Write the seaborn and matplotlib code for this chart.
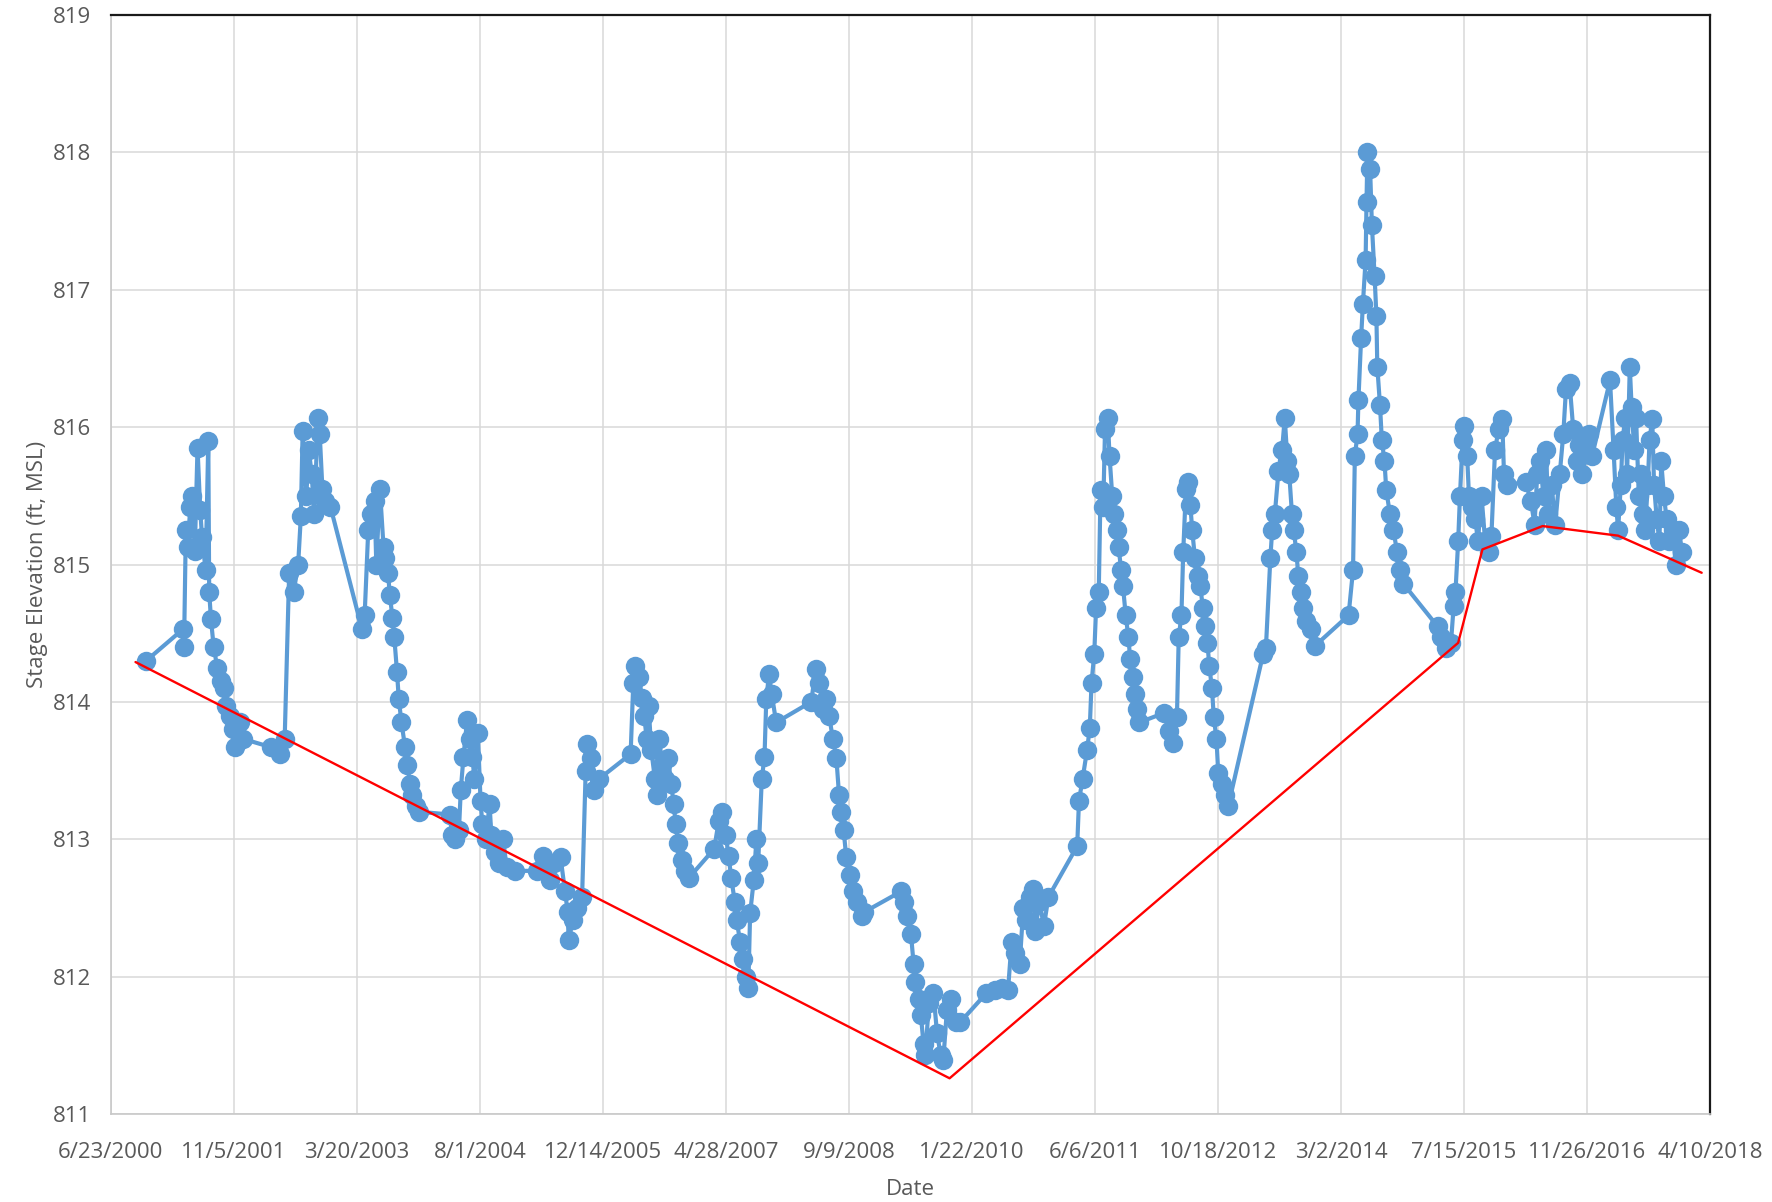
import numpy as np
import pandas as pd
import seaborn as sns
import matplotlib.pyplot as plt

# stage readings, time as decimal year
stage_year = [
    2000.87, 2001.28, 2001.29, 2001.31, 2001.33, 2001.36, 2001.38, 2001.41, 2001.44, 2001.47,
    2001.49, 2001.53, 2001.56, 2001.57, 2001.59, 2001.62, 2001.66, 2001.70, 2001.73, 2001.76,
    2001.80, 2001.83, 2001.86, 2001.91, 2001.95, 2002.26, 2002.36, 2002.41, 2002.46, 2002.51,
    2002.56, 2002.59, 2002.61, 2002.65, 2002.68, 2002.71, 2002.74, 2002.78, 2002.80, 2002.83,
    2002.86, 2002.92, 2003.27, 2003.30, 2003.34, 2003.37, 2003.41, 2003.43, 2003.47, 2003.51,
    2003.53, 2003.56, 2003.58, 2003.61, 2003.63, 2003.66, 2003.68, 2003.71, 2003.75, 2003.77,
    2003.81, 2003.83, 2003.87, 2003.91, 2004.25, 2004.27, 2004.31, 2004.35, 2004.37, 2004.40,
    2004.44, 2004.47, 2004.50, 2004.52, 2004.56, 2004.59, 2004.61, 2004.65, 2004.69, 2004.71,
    2004.75, 2004.79, 2004.84, 2004.88, 2004.97, 2005.22, 2005.29, 2005.36, 2005.41, 2005.48,
    2005.53, 2005.56, 2005.57, 2005.62, 2005.66, 2005.72, 2005.76, 2005.78, 2005.82, 2005.85,
    2005.91, 2006.26, 2006.29, 2006.31, 2006.35, 2006.39, 2006.41, 2006.44, 2006.46, 2006.49,
    2006.53, 2006.55, 2006.58, 2006.61, 2006.64, 2006.68, 2006.71, 2006.74, 2006.76, 2006.79,
    2006.83, 2006.86, 2006.91, 2007.19, 2007.24, 2007.28, 2007.32, 2007.35, 2007.38, 2007.42,
    2007.44, 2007.48, 2007.51, 2007.54, 2007.57, 2007.59, 2007.63, 2007.66, 2007.68, 2007.72,
    2007.75, 2007.77, 2007.80, 2007.83, 2007.88, 2008.27, 2008.32, 2008.36, 2008.40, 2008.44,
    2008.47, 2008.51, 2008.55, 2008.58, 2008.60, 2008.63, 2008.66, 2008.70, 2008.74, 2008.78,
    2008.83, 2008.86, 2009.27, 2009.30, 2009.34, 2009.38, 2009.41, 2009.43, 2009.47, 2009.49,
    2009.52, 2009.54, 2009.58, 2009.63, 2009.67, 2009.71, 2009.74, 2009.78, 2009.83, 2009.88,
    2009.93, 2010.22, 2010.31, 2010.39, 2010.46, 2010.50, 2010.54, 2010.59, 2010.63, 2010.66,
    2010.70, 2010.74, 2010.76, 2010.81, 2010.86, 2010.91, 2011.23, 2011.25, 2011.29, 2011.34,
    2011.37, 2011.39, 2011.42, 2011.44, 2011.47, 2011.49, 2011.52, 2011.54, 2011.57, 2011.59,
    2011.62, 2011.64, 2011.67, 2011.69, 2011.72, 2011.74, 2011.77, 2011.80, 2011.82, 2011.85,
    2011.87, 2011.90, 2011.92, 2012.20, 2012.25, 2012.30, 2012.34, 2012.36, 2012.39, 2012.41,
    2012.44, 2012.46, 2012.49, 2012.51, 2012.54, 2012.57, 2012.60, 2012.63, 2012.65, 2012.68,
    2012.70, 2012.73, 2012.75, 2012.78, 2012.80, 2012.84, 2012.88, 2012.91, 2013.30, 2013.33,
    2013.38, 2013.40, 2013.43, 2013.47, 2013.51, 2013.54, 2013.57, 2013.59, 2013.62, 2013.64,
    2013.67, 2013.69, 2013.72, 2013.74, 2013.78, 2013.83, 2013.88, 2014.25, 2014.30, 2014.32,
    2014.35, 2014.36, 2014.39, 2014.41, 2014.44, 2014.45, 2014.46, 2014.49, 2014.51, 2014.54,
    2014.56, 2014.57, 2014.60, 2014.62, 2014.65, 2014.67, 2014.71, 2014.75, 2014.79, 2014.82,
    2014.86, 2015.24, 2015.28, 2015.34, 2015.39, 2015.42, 2015.44, 2015.47, 2015.49, 2015.52,
    2015.54, 2015.57, 2015.59, 2015.62, 2015.66, 2015.69, 2015.73, 2015.77, 2015.81, 2015.84,
    2015.88, 2015.92, 2015.96, 2015.98, 2016.01, 2016.22, 2016.28, 2016.32, 2016.35, 2016.38,
    2016.42, 2016.45, 2016.47, 2016.51, 2016.55, 2016.60, 2016.64, 2016.67, 2016.71, 2016.75,
    2016.79, 2016.82, 2016.85, 2016.89, 2016.93, 2016.96, 2017.16, 2017.20, 2017.23, 2017.25,
    2017.28, 2017.30, 2017.33, 2017.35, 2017.38, 2017.40, 2017.43, 2017.45, 2017.48, 2017.50,
    2017.53, 2017.55, 2017.58, 2017.60, 2017.63, 2017.65, 2017.68, 2017.71, 2017.73, 2017.76,
    2017.79, 2017.82, 2017.86, 2017.89, 2017.93, 2017.96,
]
stage_ft = [
    814.30, 814.53, 814.40, 815.25, 815.13, 815.42, 815.50, 815.10, 815.85, 815.40,
    815.20, 814.96, 815.90, 814.80, 814.60, 814.40, 814.25, 814.15, 814.10, 813.97,
    813.90, 813.80, 813.67, 813.85, 813.73, 813.67, 813.62, 813.73, 814.94, 814.80,
    815.00, 815.35, 815.97, 815.50, 815.83, 815.66, 815.37, 816.07, 815.95, 815.55,
    815.46, 815.42, 814.53, 814.63, 815.25, 815.37, 815.46, 815.00, 815.55, 815.13,
    815.05, 814.94, 814.78, 814.61, 814.47, 814.22, 814.02, 813.85, 813.67, 813.54,
    813.40, 813.32, 813.24, 813.20, 813.18, 813.03, 813.00, 813.07, 813.36, 813.60,
    813.87, 813.73, 813.60, 813.44, 813.77, 813.28, 813.11, 813.00, 813.26, 813.03,
    812.91, 812.83, 813.00, 812.80, 812.77, 812.77, 812.88, 812.70, 812.83, 812.87,
    812.62, 812.47, 812.27, 812.41, 812.50, 812.58, 813.50, 813.69, 813.59, 813.36,
    813.44, 813.62, 814.14, 814.26, 814.18, 814.03, 813.90, 813.73, 813.97, 813.65,
    813.44, 813.32, 813.73, 813.54, 813.44, 813.59, 813.40, 813.26, 813.11, 812.97,
    812.85, 812.77, 812.72, 812.93, 813.13, 813.20, 813.03, 812.88, 812.72, 812.54,
    812.41, 812.25, 812.13, 812.00, 811.92, 812.46, 812.70, 813.00, 812.83, 813.44,
    813.60, 814.02, 814.20, 814.06, 813.85, 814.00, 814.24, 814.14, 813.95, 814.02,
    813.90, 813.73, 813.59, 813.32, 813.20, 813.07, 812.87, 812.74, 812.62, 812.54,
    812.44, 812.47, 812.62, 812.54, 812.44, 812.31, 812.09, 811.96, 811.84, 811.72,
    811.51, 811.43, 811.81, 811.88, 811.59, 811.43, 811.39, 811.76, 811.84, 811.67,
    811.67, 811.88, 811.90, 811.92, 811.90, 812.25, 812.17, 812.09, 812.50, 812.41,
    812.58, 812.64, 812.33, 812.54, 812.37, 812.58, 812.95, 813.28, 813.44, 813.65,
    813.81, 814.14, 814.35, 814.68, 814.80, 815.54, 815.42, 815.99, 816.07, 815.79,
    815.50, 815.37, 815.25, 815.13, 814.96, 814.84, 814.63, 814.47, 814.31, 814.18,
    814.06, 813.95, 813.85, 813.92, 813.79, 813.70, 813.89, 814.47, 814.63, 815.09,
    815.55, 815.60, 815.43, 815.25, 815.05, 814.92, 814.84, 814.68, 814.55, 814.43,
    814.26, 814.10, 813.89, 813.73, 813.48, 813.40, 813.32, 813.24, 814.35, 814.39,
    815.05, 815.25, 815.37, 815.68, 815.83, 816.07, 815.75, 815.66, 815.37, 815.25,
    815.09, 814.92, 814.80, 814.68, 814.59, 814.53, 814.41, 814.63, 814.96, 815.79,
    815.95, 816.20, 816.65, 816.90, 817.22, 817.64, 818.00, 817.88, 817.47, 817.10,
    816.81, 816.44, 816.16, 815.91, 815.75, 815.54, 815.37, 815.25, 815.09, 814.96,
    814.86, 814.55, 814.47, 814.39, 814.43, 814.70, 814.80, 815.17, 815.50, 815.91,
    816.01, 815.79, 815.50, 815.42, 815.33, 815.17, 815.50, 815.17, 815.09, 815.21,
    815.83, 815.99, 816.06, 815.66, 815.58, 815.60, 815.46, 815.29, 815.66, 815.75,
    815.50, 815.83, 815.37, 815.58, 815.29, 815.66, 815.95, 816.28, 816.32, 815.99,
    815.75, 815.87, 815.66, 815.91, 815.95, 815.79, 816.34, 815.83, 815.42, 815.25,
    815.58, 815.91, 816.07, 815.66, 816.44, 816.15, 815.83, 816.07, 815.50, 815.66,
    815.37, 815.25, 815.58, 815.91, 816.06, 815.58, 815.33, 815.17, 815.75, 815.50,
    815.33, 815.17, 815.25, 815.00, 815.25, 815.09,
]

# red lower envelope
trend_year = [2000.75, 2009.81, 2015.47, 2015.74, 2016.41, 2017.25, 2018.18]
trend_ft = [814.29, 811.26, 814.43, 815.11, 815.28, 815.21, 814.94]


def to_date(years):
    years = np.asarray(years, dtype=float)
    return pd.Timestamp('2000-01-01') + pd.to_timedelta((years - 2000) * 365.25, unit='D')


stage = pd.DataFrame({'Date': to_date(stage_year), 'Stage': stage_ft})
trend = pd.DataFrame({'Date': to_date(trend_year), 'Stage': trend_ft})

sns.set_style('white')
plt.rcParams['font.family'] = ['Open Sans', 'DejaVu Sans']

fig = plt.figure(figsize=(17.72, 12.02), dpi=100)
ax = fig.add_axes([0.0626, 0.0732, 0.9024, 0.9143])

sns.lineplot(data=stage, x='Date', y='Stage', sort=False, estimator=None,
             color='#5B9BD5', linewidth=3.0, marker='o', markersize=14,
             markeredgewidth=0, ax=ax, zorder=3)
sns.lineplot(data=trend, x='Date', y='Stage', sort=False, estimator=None,
             color='#FF0000', linewidth=1.7, ax=ax, zorder=4)

start = pd.Timestamp('2000-06-23')
ticks = pd.date_range(start, periods=14, freq='500D')
ax.set_xlim(ticks[0], ticks[-1])
ax.set_xticks(ticks)
ax.set_xticklabels([f'{d.month}/{d.day}/{d.year}' for d in ticks])
ax.set_ylim(811, 819)
ax.set_yticks(range(811, 820))

ax.grid(True, color='#d9d9d9', linewidth=1.1)
ax.set_axisbelow(True)
for side in ['left', 'bottom']:
    ax.spines[side].set_color('#c8c8c8')
    ax.spines[side].set_linewidth(1.2)
for side in ['top', 'right']:
    ax.spines[side].set_color('#1a1a1a')
    ax.spines[side].set_linewidth(1.6)

ax.tick_params(axis='both', length=0, labelsize=16, labelcolor='#595959')
ax.tick_params(axis='x', pad=20)
ax.tick_params(axis='y', pad=14)
ax.set_xlabel('Date', fontsize=16, color='#595959', labelpad=12)
ax.set_ylabel('Stage Elevation (ft, MSL)', fontsize=16, color='#595959', labelpad=4)

fig.savefig('out.png', dpi=100)
